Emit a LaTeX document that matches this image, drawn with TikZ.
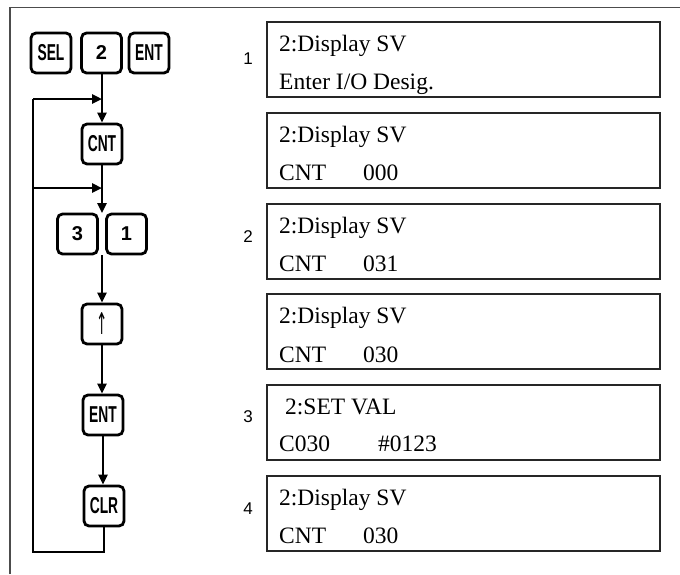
\documentclass[tikz,border=0pt]{standalone}
\usepackage{fontspec}
\setmainfont{Liberation Serif}
\newfontfamily\numfont{Liberation Sans}
\newfontfamily\keyfont{Liberation Sans}[FakeStretch=0.6]
\newfontfamily\symfont{DejaVu Sans}[FakeStretch=0.45]
\usetikzlibrary{arrows.meta}
\tikzset{
  key/.style={draw, line width=2.8pt, rounded corners=5pt, minimum width=40pt, minimum height=40pt, inner sep=0pt, font=\keyfont\bfseries\fontsize{23}{23}\selectfont},
  numkey/.style={key, font=\numfont\bfseries\fontsize{20}{20}\selectfont},
  flow/.style={line width=2.4pt},
  flowarr/.style={flow, -{Triangle[width=9pt,length=10pt]}},
  disp/.style={draw=black!85, line width=1.4pt},
  dtext/.style={anchor=base west, inner sep=0pt, font=\fontsize{23.5}{23.5}\selectfont},
  steplabel/.style={font=\numfont\fontsize{17}{17}\selectfont, inner sep=0pt},
  frame/.style={draw=black!70, line width=1.4pt}
}
\begin{document}
\begin{tikzpicture}[x=1pt,y=-1pt]
\useasboundingbox (0,0) rectangle (680,574);
% outer frame
\coordinate (fL) at (10,574);
\coordinate (fC) at (10,7.5);
\coordinate (fR) at (680,7.5);
\draw[frame] (fL) -- (fC) -- (fR);

% keys
\node[key] (sel) at (51,53) {SEL};
\node[numkey] (k2) at (101.5,53) {2};
\node[key] (ent1) at (149,53) {ENT};
\node[key] (cnt) at (102,144) {CNT};
\node[numkey] (k3) at (77.5,234) {3};
\node[numkey] (k1) at (126.5,234) {1};
\node[key, font=\symfont\fontsize{30}{30}\selectfont] (up) at (102,324) {↑};
\node[key] (ent2) at (103,415) {ENT};
\node[key] (clr) at (104,506) {CLR};

% junctions and loop
\coordinate (j1) at (102,99);
\coordinate (j2) at (102,188);
\coordinate (gt) at (102,213);
\coordinate (gb) at (102,255);
\coordinate (lt) at (33,99);
\coordinate (lm) at (33,188);
\coordinate (lb) at (33,552);
\coordinate (cb) at (clr.south |- lb);

\draw[flowarr] (k2.south -| j1) -- (cnt.north);
\draw[flowarr] (lt) -- (j1);
\draw[flowarr] (cnt.south) -- (gt);
\draw[flowarr] (lm) -- (j2);
\draw[flowarr] (gb) -- (up.north);
\draw[flowarr] (up.south) -- (up.south |- ent2.north);
\draw[flowarr] (ent2.south) -- (ent2.south |- clr.north);
\draw[flow] (clr.south) -- (cb) -- (lb) -- (lt);

% displays
\foreach \t in {22, 113, 204, 294, 385, 476} {
  \draw[disp] (267,\t) rectangle (660,\t+75);
}
\node[dtext] (d1a) at (279,51) {2:Display SV};
\node[dtext] (d1b) at (279,89) {Enter I/O Desig.};
\node[dtext] (d2a) at (279,142) {2:Display SV};
\node[dtext] (d2b) at (279,180) {CNT};
\node[dtext] (d2c) at (363,180) {000};
\node[dtext] (d3a) at (279,233) {2:Display SV};
\node[dtext] (d3b) at (279,271) {CNT};
\node[dtext] (d3c) at (363,271) {031};
\node[dtext] (d4a) at (279,323) {2:Display SV};
\node[dtext] (d4b) at (279,362) {CNT};
\node[dtext] (d4c) at (363,362) {030};
\node[dtext] (d5a) at (285,414) {2:SET VAL};
\node[dtext] (d5b) at (279,451) {C030};
\node[dtext] (d5c) at (378,451) {\#0123};
\node[dtext] (d6a) at (279,505) {2:Display SV};
\node[dtext] (d6b) at (279,543) {CNT};
\node[dtext] (d6c) at (363,543) {030};

% step labels
\node[steplabel] (s1) at (248,59) {1};
\node[steplabel] (s2) at (248,237) {2};
\node[steplabel] (s3) at (248,417) {3};
\node[steplabel] (s4) at (248,509) {4};
\end{tikzpicture}
\end{document}
